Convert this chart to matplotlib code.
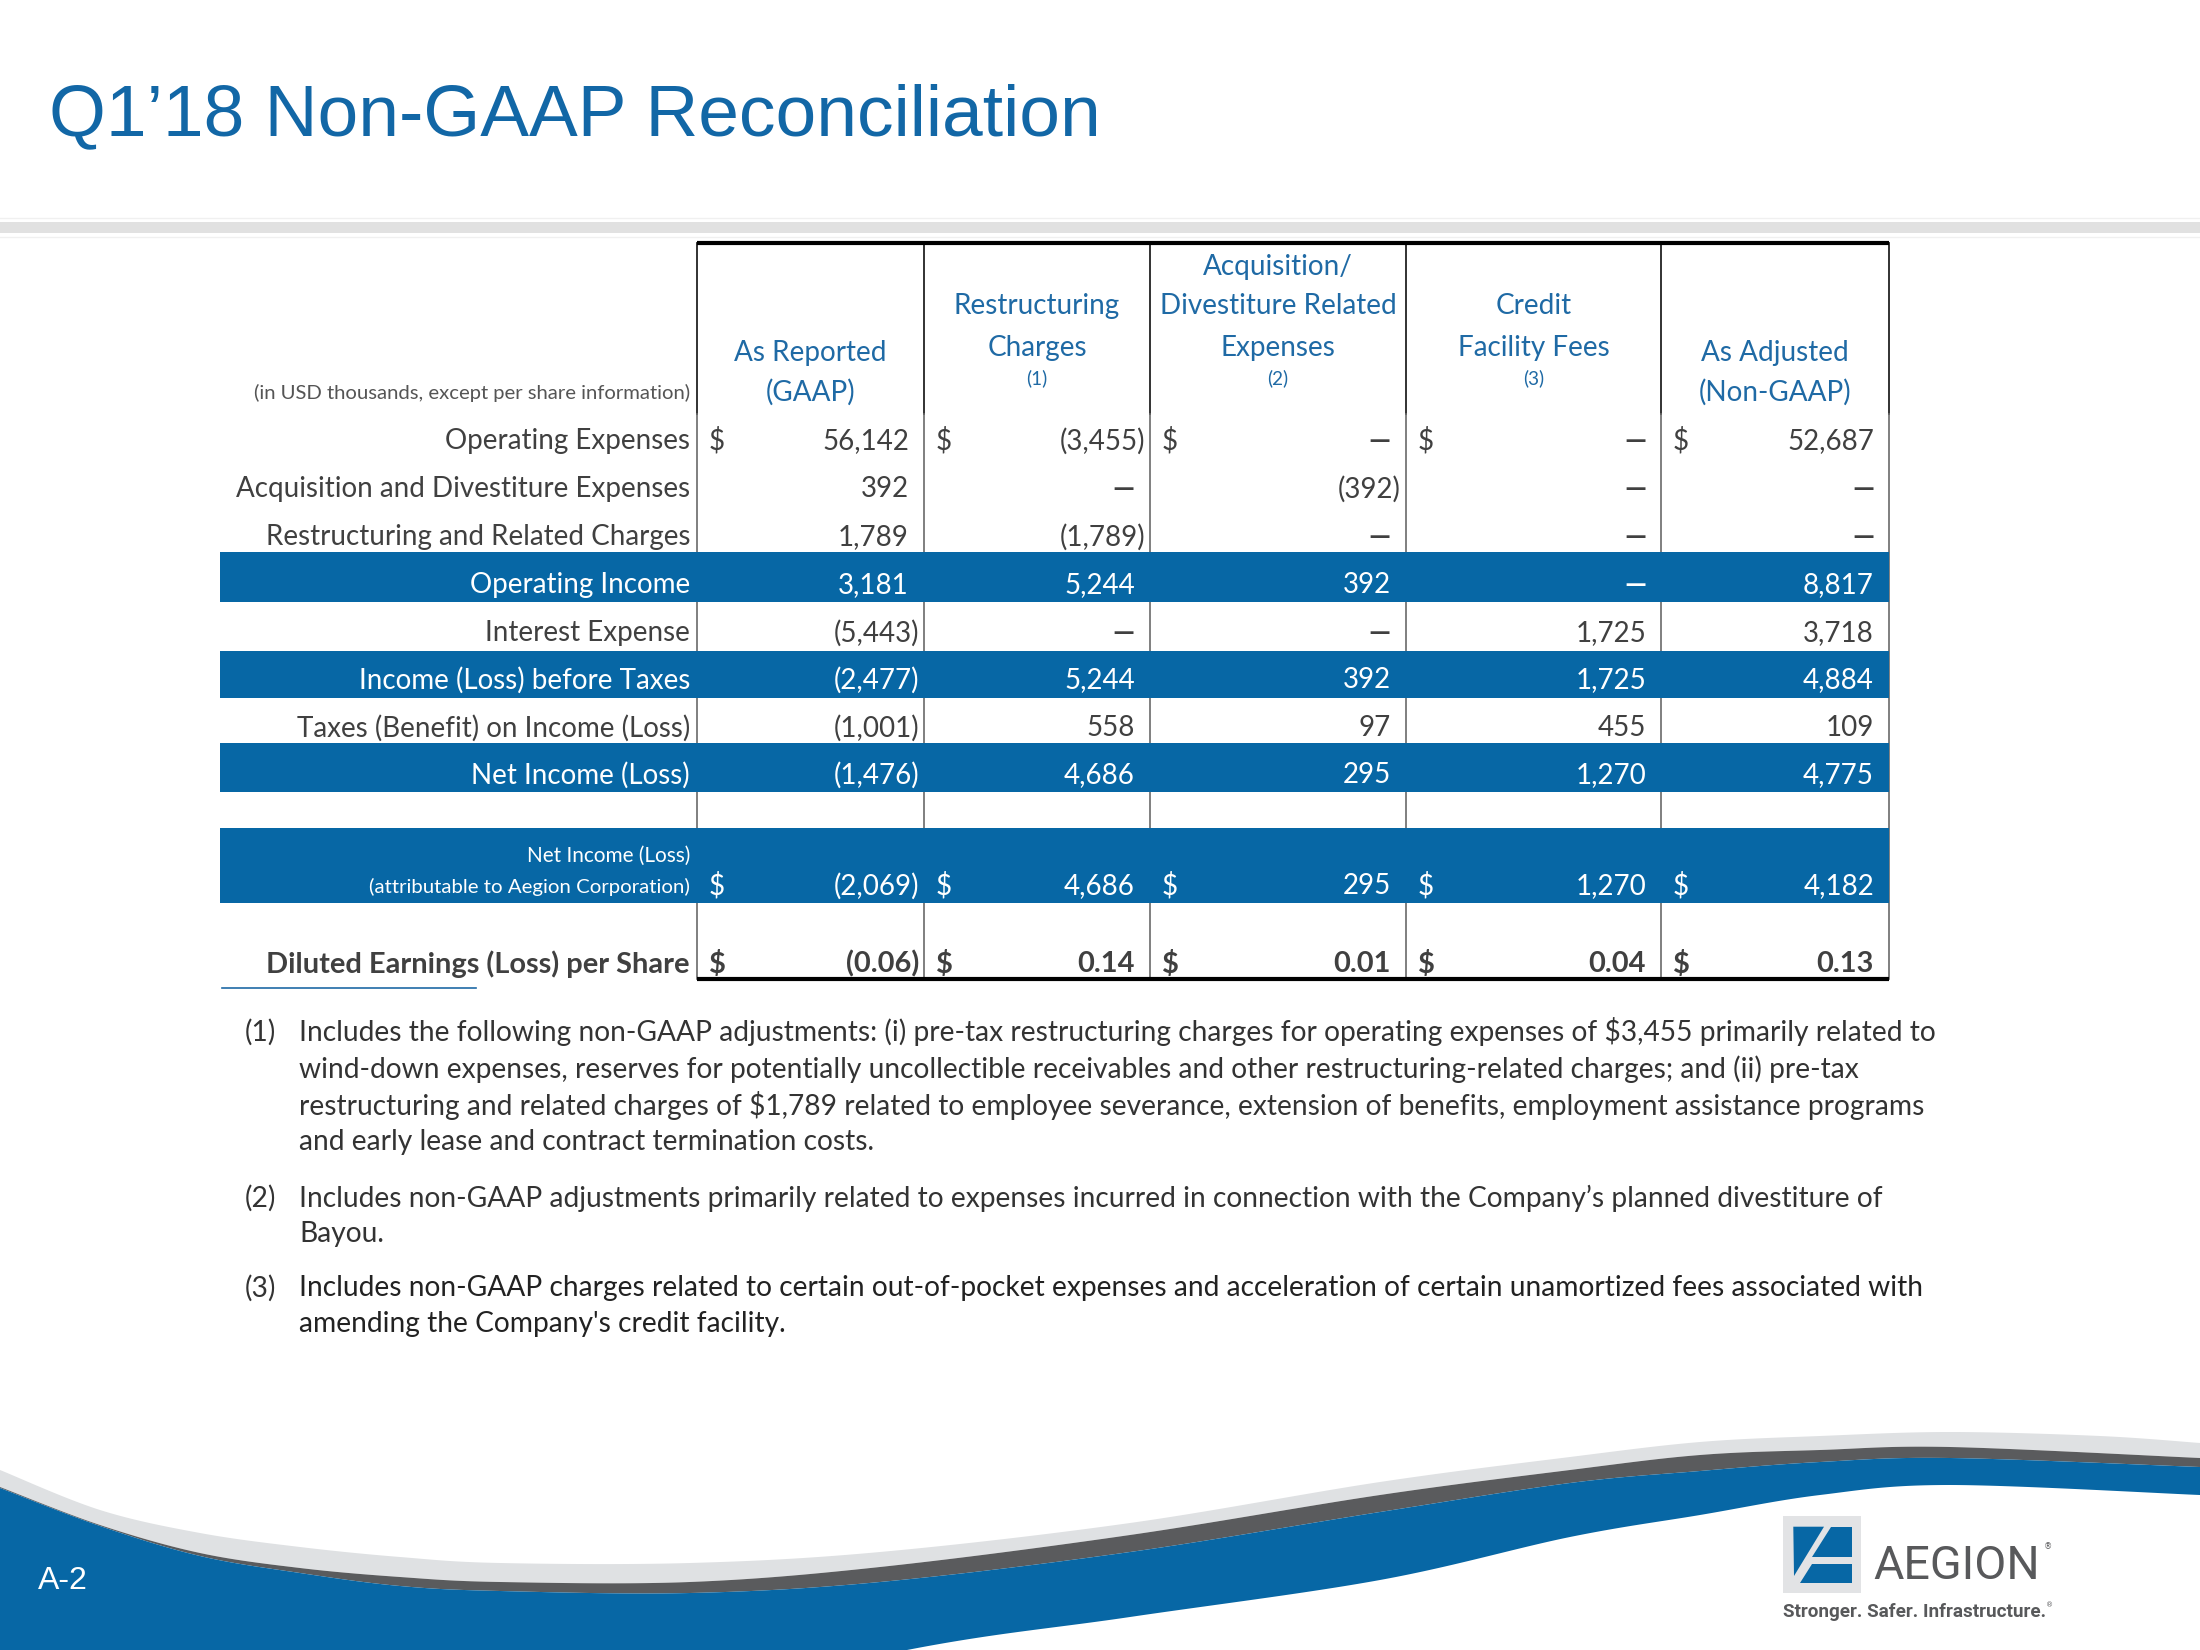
import matplotlib
matplotlib.use("Agg")
import matplotlib.pyplot as plt
import numpy as np
from matplotlib.patches import Rectangle, Polygon

# ---------------- data ----------------
row_labels = ["Operating Expenses", "Acquisition and Divestiture Expenses",
              "Restructuring and Related Charges", "Operating Income",
              "Interest Expense", "Income (Loss) before Taxes",
              "Taxes (Benefit) on Income (Loss)", "Net Income (Loss)",
              "Net Income (Loss)\n(attributable to Aegion Corporation)",
              "Diluted Earnings (Loss) per Share"]
col_headers = [["", "As Reported", "(GAAP)"],
               ["Restructuring", "Charges", "(1)"],
               ["Acquisition/", "Divestiture Related", "Expenses", "(2)"],
               ["Credit", "Facility Fees", "(3)"],
               ["", "As Adjusted", "(Non-GAAP)"]]
as_reported   = [56142, 392, 1789, 3181, -5443, -2477, -1001, -1476, -2069, -0.06]
restructuring = [-3455, None, -1789, 5244, None, 5244, 558, 4686, 4686, 0.14]
acq_divest    = [None, -392, None, 392, None, 392, 97, 295, 295, 0.01]
credit_fees   = [None, None, None, None, 1725, 1725, 455, 1270, 1270, 0.04]
as_adjusted   = [52687, None, None, 8817, 3718, 4884, 109, 4775, 4182, 0.13]
columns = [as_reported, restructuring, acq_divest, credit_fees, as_adjusted]
dollar_rows = [0, 8, 9]
band_rows = [3, 5, 7, 8]
bold_rows = [9]
unit_note = "(in USD thousands, except per share information)"
title = "Q1\u201918 Non-GAAP Reconciliation"
footnotes = [
    ("(1)", ["Includes the following non-GAAP adjustments: (i) pre-tax restructuring charges for operating expenses of $3,455 primarily related to",
             "wind-down expenses, reserves for potentially uncollectible receivables and other restructuring-related charges; and (ii) pre-tax",
             "restructuring and related charges of $1,789 related to employee severance, extension of benefits, employment assistance programs",
             "and early lease and contract termination costs."]),
    ("(2)", ["Includes non-GAAP adjustments primarily related to expenses incurred in connection with the Company\u2019s planned divestiture of",
             "Bayou."]),
    ("(3)", ["Includes non-GAAP charges related to certain out-of-pocket expenses and acceleration of certain unamortized fees associated with",
             "amending the Company's credit facility."]),
]
page_label = "A-2"

# ---------------- style / layout ----------------
BLUE = "#0767a5"
TITLE_BLUE = "#1267a6"
HEAD_BLUE = "#1f6aa5"
TXT = "#404040"
FONT = "Lato"

W, H = 2200, 1650
fig = plt.figure(figsize=(22, 16.5), dpi=100)
ax = fig.add_axes([0, 0, 1, 1])
ax.set_xlim(0, W)
ax.set_ylim(H, 0)
ax.axis("off")
renderer = fig.canvas.get_renderer()


def fit(text, target, family, weight="normal", base=20.0):
    t = ax.text(0, 0, text, fontsize=base, family=family, weight=weight, parse_math=False)
    w = t.get_window_extent(renderer).width
    t.remove()
    return base * target / w


def txt(x, y, s, size, color=TXT, ha="left", va="center", family=FONT, weight="normal", z=5):
    ax.text(x, y, s, fontsize=size, color=color, ha=ha, va=va, family=family,
            weight=weight, parse_math=False, zorder=z)


# title and top band
ts = fit(title, 1050, "Liberation Sans")
txt(49, 135, title, ts, color=TITLE_BLUE, family="Liberation Sans", va="baseline")
ax.add_patch(Rectangle((0, 222), W, 11, color="#e1e1e1", lw=0, zorder=1))
ax.plot([0, W], [218, 218], color="#f0f0f0", lw=1, zorder=1)
ax.plot([0, W], [237, 237], color="#f0f0f0", lw=1, zorder=1)

# table geometry
col_edges = [697, 924, 1150, 1406, 1661, 1889]
table_top, table_bot = 243, 979
row_y = [441, 489, 537, 585, 633, 680, 728, 775, 886, 964]
band_spans = {3: (552, 602), 5: (651, 698), 7: (743, 792), 8: (828, 903)}
band_left = 220
label_right = 690

lab_size = fit("Acquisition and Divestiture Expenses", 454, FONT)
bold_size = fit("Diluted Earnings (Loss) per Share", 423, FONT, weight="bold")
head_size = fit("Divestiture Related", 237, FONT)
note_size = fit(unit_note, 437, FONT)
small_size = fit("(attributable to Aegion Corporation)", 321, FONT)
sup_size = head_size * 0.68
fn_size = fit(footnotes[0][1][0], 1639, FONT)

# column lines
for i, x in enumerate(col_edges):
    ax.plot([x, x], [table_top, 414], color="#222222", lw=1.3, zorder=2)
    ax.plot([x, x], [414, table_bot], color="#6a6a6a", lw=1.2, zorder=2)
ax.plot([col_edges[0], col_edges[-1]], [table_top, table_top], color="black", lw=3, zorder=4,
        solid_capstyle="butt")
ax.plot([col_edges[0], col_edges[-1]], [table_bot, table_bot], color="black", lw=3, zorder=4,
        solid_capstyle="butt")

# bands
for r in band_rows:
    y0, y1 = band_spans[r]
    ax.add_patch(Rectangle((band_left, y0), col_edges[-1] - band_left, y1 - y0,
                           color=BLUE, lw=0, zorder=3))

# header
head_lines_y = [267, 306, 348]
for c, lines in enumerate(col_headers):
    cx = (col_edges[c] + col_edges[c + 1]) / 2
    if lines[0] == "":
        txt(cx, 353, lines[1], head_size, color=HEAD_BLUE, ha="center")
        txt(cx, 392, lines[2], head_size, color=HEAD_BLUE, ha="center")
    else:
        body = lines[:-1]
        ys = head_lines_y[-len(body):]
        for s, y in zip(body, ys):
            txt(cx, y, s, head_size, color=HEAD_BLUE, ha="center")
        txt(cx, 378, lines[-1], sup_size, color=HEAD_BLUE, ha="center")
txt(label_right, 393, unit_note, note_size, color="#555555", ha="right")


def fmt(v, dec):
    if v is None:
        return "\u2014"
    s = f"{abs(v):,.{dec}f}"
    return f"({s})" if v < 0 else s


# rows
for r, lab in enumerate(row_labels):
    y = row_y[r]
    inband = r in band_rows
    col = "white" if inband else TXT
    weight = "bold" if r in bold_rows else "normal"
    size = bold_size if r in bold_rows else lab_size
    if r == 8:
        l1, l2 = lab.split("\n")
        txt(label_right, 856, l1, small_size * 1.02, color=col, ha="right")
        txt(label_right, 887, l2, small_size, color=col, ha="right")
    else:
        txt(label_right, y, lab, size, color=col, ha="right", weight=weight)
    dec = 2 if r == 9 else 0
    for c, vals in enumerate(columns):
        v = vals[r]
        s = fmt(v, dec)
        right = col_edges[c + 1]
        xr = right - 5 if (v is not None and v < 0) else right - 15
        w = "bold" if (v is None or r in bold_rows) else "normal"
        txt(xr, y, s, size if r in bold_rows else lab_size, color=col, ha="right", weight=w)
        if r in dollar_rows:
            txt(col_edges[c] + 12, y, "$", size if r in bold_rows else lab_size, color=col,
                ha="left", weight=weight)

ax.plot([222, 476], [988, 988], color=HEAD_BLUE, lw=1.2, zorder=4)

# footnotes
fn_y = [[1032, 1069, 1105, 1142], [1198, 1234], [1288, 1324]]
for (num, lines), ys in zip(footnotes, fn_y):
    txt(245, ys[0], num, fn_size, color="#333333")
    for s, y in zip(lines, ys):
        txt(299, y, s, fn_size, color="#222222" if num == "(3)" else "#333333")


# ---------------- bottom wave ----------------
def smooth(pts, n=40):
    P = np.asarray(pts, float)
    P = np.vstack([P[0], P, P[-1]])
    out = []
    t = np.linspace(0, 1, n, endpoint=False)[:, None]
    for i in range(1, len(P) - 2):
        p0, p1, p2, p3 = P[i - 1], P[i], P[i + 1], P[i + 2]
        out.append(0.5 * ((2 * p1) + (-p0 + p2) * t + (2 * p0 - 5 * p1 + 4 * p2 - p3) * t ** 2
                          + (-p0 + 3 * p1 - 3 * p2 + p3) * t ** 3))
    out.append(P[-2][None])
    return np.vstack(out)


top_grey = smooth([(0, 1470), (100, 1510), (200, 1533), (300, 1547), (400, 1557), (500, 1563),
                   (690, 1563), (880, 1552), (1130, 1523), (1380, 1482), (1570, 1457),
                   (1700, 1442), (1820, 1436), (1950, 1432), (2100, 1436), (2200, 1443)])
grey_dark = smooth([(0, 1487), (100, 1525), (200, 1553), (300, 1568), (400, 1577), (500, 1582),
                    (690, 1582), (880, 1567), (1130, 1535), (1380, 1495), (1570, 1470),
                    (1700, 1455), (1820, 1450), (1950, 1447), (2200, 1458)])
dark_blue = smooth([(0, 1488), (100, 1526), (200, 1556), (300, 1573), (400, 1586), (500, 1591),
                    (690, 1593), (880, 1582), (1130, 1552), (1380, 1512), (1570, 1483),
                    (1700, 1471), (1820, 1462), (1950, 1458), (2200, 1467)])
blue_bot = smooth([(0, 1820), (600, 1720), (907, 1650), (1130, 1617), (1380, 1580), (1570, 1537),
                   (1700, 1515), (1820, 1495), (1950, 1485), (2200, 1495)])

ax.add_patch(Polygon(np.vstack([top_grey, grey_dark[::-1]]), closed=True, color="#dfe1e3", lw=0, zorder=1))
ax.add_patch(Polygon(np.vstack([grey_dark, dark_blue[::-1]]), closed=True, color="#5a5b5d", lw=0, zorder=1))
ax.add_patch(Polygon(np.vstack([dark_blue, blue_bot[::-1]]), closed=True, color=BLUE, lw=0, zorder=1))

txt(38, 1581, page_label, 23, color="white", family="Liberation Sans")

# logo
ax.add_patch(Rectangle((1783, 1516), 78, 77, color="#e2e3e5", lw=0, zorder=2))
ax.add_patch(Polygon([(1793.3, 1526.7), (1824, 1526.7), (1794, 1576)], closed=True, color=BLUE, lw=0, zorder=3))
ax.add_patch(Polygon([(1830.7, 1526.7), (1851.7, 1526.7), (1851.7, 1557.3), (1812, 1557.3)],
                     closed=True, color=BLUE, lw=0, zorder=3))
ax.add_patch(Polygon([(1812, 1564), (1851.7, 1564), (1851.7, 1583.3), (1800, 1583.3)],
                     closed=True, color=BLUE, lw=0, zorder=3))
aeg = fit("AEGION", 167, "Roboto")
txt(1873, 1566, "AEGION", aeg, color="#58595b", family="Roboto")
txt(2044, 1547, "\u00ae", 6, color="#58595b", family="DejaVu Sans")
tg = fit("Stronger. Safer. Infrastructure.", 262, "Roboto", weight="bold")
txt(1783, 1612, "Stronger. Safer. Infrastructure.", tg, color="#58595b", family="Roboto", weight="bold")
txt(2046, 1605, "\u00ae", 5, color="#58595b", family="DejaVu Sans")

fig.savefig("out.png", dpi=100, facecolor="white")
